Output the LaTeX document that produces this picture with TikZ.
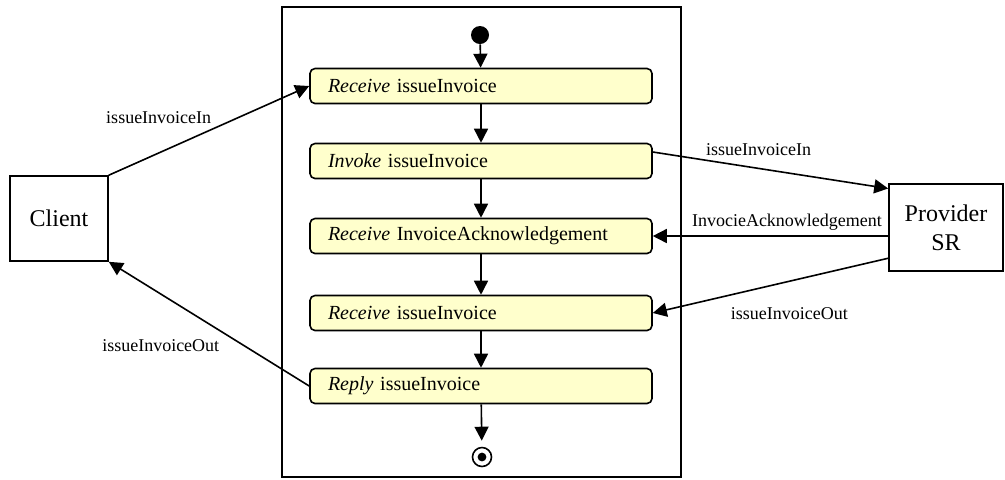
\documentclass[tikz,border=0pt]{standalone}
\usepackage{fontspec}
\setmainfont{Liberation Serif}
\usepackage{tikz}
\usetikzlibrary{arrows.meta,positioning}
\definecolor{actfill}{RGB}{255,255,204}
\tikzset{
  >={Triangle[length=7pt, width=7pt]},
  act/.style={draw, thick, rounded corners=2.5pt, fill=actfill, minimum height=17.5pt, text width=153pt, inner xsep=9pt, align=left, font=\fontsize{10}{12}\selectfont},
  party/.style={draw, thick, align=center, font=\fontsize{12}{14.5}\selectfont},
  startdot/.style={circle, fill, inner sep=0pt, minimum size=9pt},
  enddot/.style={circle, draw, thick, inner sep=0pt, minimum size=9.5pt, path picture={\fill (path picture bounding box.center) circle (2.2pt);}},
  flow/.style={->, thick},
  msg/.style={->, thick},
  lbl/.style={font=\fontsize{9}{11}\selectfont, inner sep=1.5pt},
}
\begin{document}
\begin{tikzpicture}[x=0.5pt, y=-0.5pt]
  \useasboundingbox (0,0) rectangle (1005,479);
  % process frame
  \draw[semithick] (282,7) rectangle (681,477);

  \node[startdot] (start) at (480,35) {};
  \node[act] (a1) at (481,86) {\textit{Receive} issueInvoice};
  \node[act] (a2) at (481,161) {\textit{Invoke} issueInvoice};
  \node[act] (a3) at (481,236) {\textit{Receive} InvoiceAcknowledgement};
  \node[act] (a4) at (481,313) {\textit{Receive} issueInvoice};
  \node[act] (a5) at (481,386) {\textit{Reply} issueInvoice};
  \node[enddot] (stop) at (482,457) {};

  \node[party, minimum width=49pt, minimum height=42.5pt] (client) at (59,218.5) {Client};
  \node[party, minimum width=57pt, minimum height=43.5pt] (provider) at (946,227.5) {Provider\\SR};

  % control flow
  \draw[flow] (start) -- (a1);
  \foreach \u/\v in {a1/a2,a2/a3,a3/a4,a4/a5}
    \draw[flow] (\u) -- (\v);
  \draw[flow, shorten >=3pt] (a5) -- (stop);

  % messages
  \draw[msg] (client.north east) -- node[lbl, pos=0.53, anchor=south east] {issueInvoiceIn} (a1.west);
  \draw[msg] (a5.west) -- node[lbl, pos=0.43, anchor=north east, yshift=-1.5pt] {issueInvoiceOut} (client.south east);
  \draw[msg] (a2.3) -- node[lbl, pos=0.21, anchor=south west] {issueInvoiceIn} (provider.146);
  \draw[msg] (a3.east -| provider.west) -- node[lbl, pos=0.43, above=1pt] {InvocieAcknowledgement} (a3.east);
  \draw[msg] (provider.208) -- node[lbl, pos=0.42, below=11.5pt] {issueInvoiceOut} (a4.east);
\end{tikzpicture}
\end{document}
